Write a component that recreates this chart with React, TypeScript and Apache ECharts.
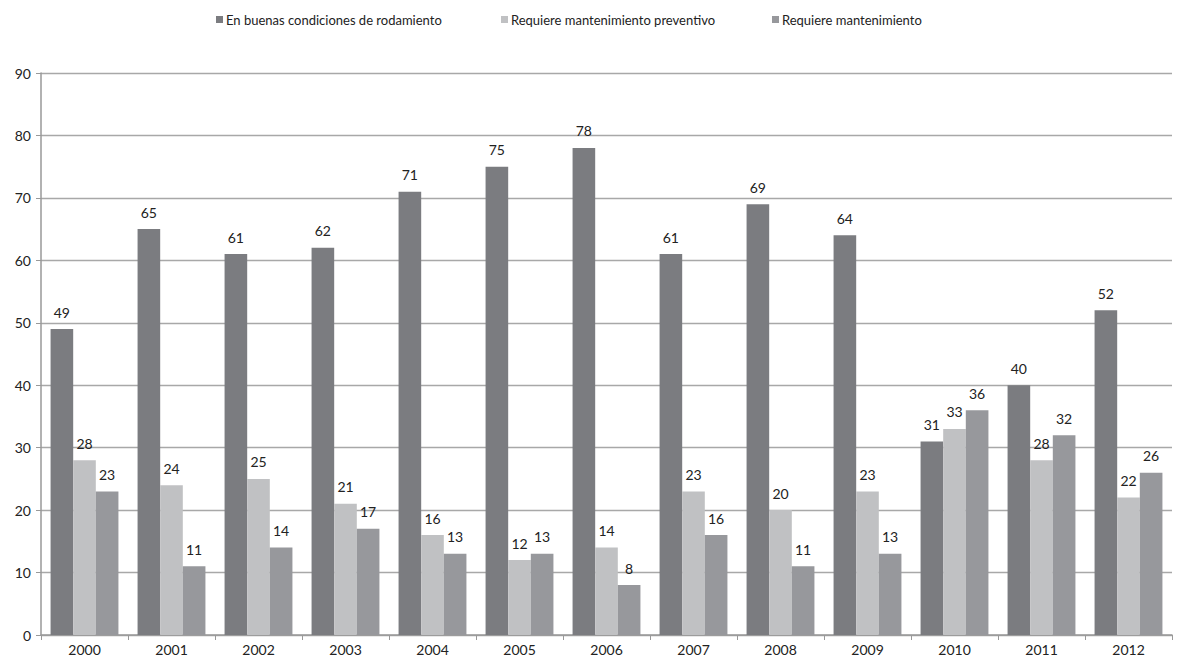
import React, { useEffect, useRef } from "react";
import * as echarts from "echarts";

const years = ["2000","2001","2002","2003","2004","2005","2006","2007","2008","2009","2010","2011","2012"];
const buenas = [49,65,61,62,71,75,78,61,69,64,31,40,52];
const preventivo = [28,24,25,21,16,12,14,23,20,23,33,28,22];
const mantenimiento = [23,11,14,17,13,13,8,16,11,13,36,32,26];
const seriesNames = ["En buenas condiciones de rodamiento","Requiere mantenimiento preventivo","Requiere mantenimiento"];
const colors = ["#7b7c80","#c0c1c3","#97989c"];

export default function App() {
  const ref = useRef<HTMLDivElement>(null);
  useEffect(() => {
    const chart = echarts.init(ref.current!, null, { renderer: "svg" });
    const font = "Lato, 'Open Sans', sans-serif";
    const label = { show: true, position: "top", distance: 10, color: "#222", fontSize: 14, fontFamily: font };
    const legendLefts = [211, 496, 767];
    chart.setOption({
      animation: false,
      textStyle: { fontFamily: font },
      legend: seriesNames.map((n, i) => ({
        top: 8,
        left: legendLefts[i],
        itemWidth: 7,
        itemHeight: 7,
        itemGap: 0,
        icon: "rect",
        textStyle: { fontSize: 13, color: "#222", fontFamily: font, padding: [0, 0, 0, -2] },
        data: [n],
      })),
      grid: { left: 41, right: 5, top: 73, bottom: 32, containLabel: false },
      xAxis: {
        type: "category",
        data: years,
        axisLine: { lineStyle: { color: "#999", width: 1.5 } },
        axisTick: { show: true, length: 5, lineStyle: { color: "#999" } },
        axisLabel: { color: "#222", fontSize: 14, fontFamily: font, margin: 7 },
      },
      yAxis: {
        type: "value",
        min: 0,
        max: 90,
        interval: 10,
        axisLine: { show: true, lineStyle: { color: "#999", width: 1.5 } },
        axisTick: { show: true, length: 5, lineStyle: { color: "#999" } },
        splitLine: { lineStyle: { color: "#a8a8a8", width: 1.3 } },
        axisLabel: { color: "#222", fontSize: 14, fontFamily: font, margin: 10 },
      },
      series: [
        { name: seriesNames[0], type: "bar", data: buenas, itemStyle: { color: colors[0] }, barGap: "0%", barCategoryGap: "22%", label },
        { name: seriesNames[1], type: "bar", data: preventivo, itemStyle: { color: colors[1] }, barGap: "0%", barCategoryGap: "22%", label },
        { name: seriesNames[2], type: "bar", data: mantenimiento, itemStyle: { color: colors[2] }, barGap: "0%", barCategoryGap: "22%", label },
      ],
    });
    return () => chart.dispose();
  }, []);
  return <div ref={ref} style={{ position: "fixed", left: 0, top: 0, width: 1177, height: 667, background: "#fff" }} />;
}
